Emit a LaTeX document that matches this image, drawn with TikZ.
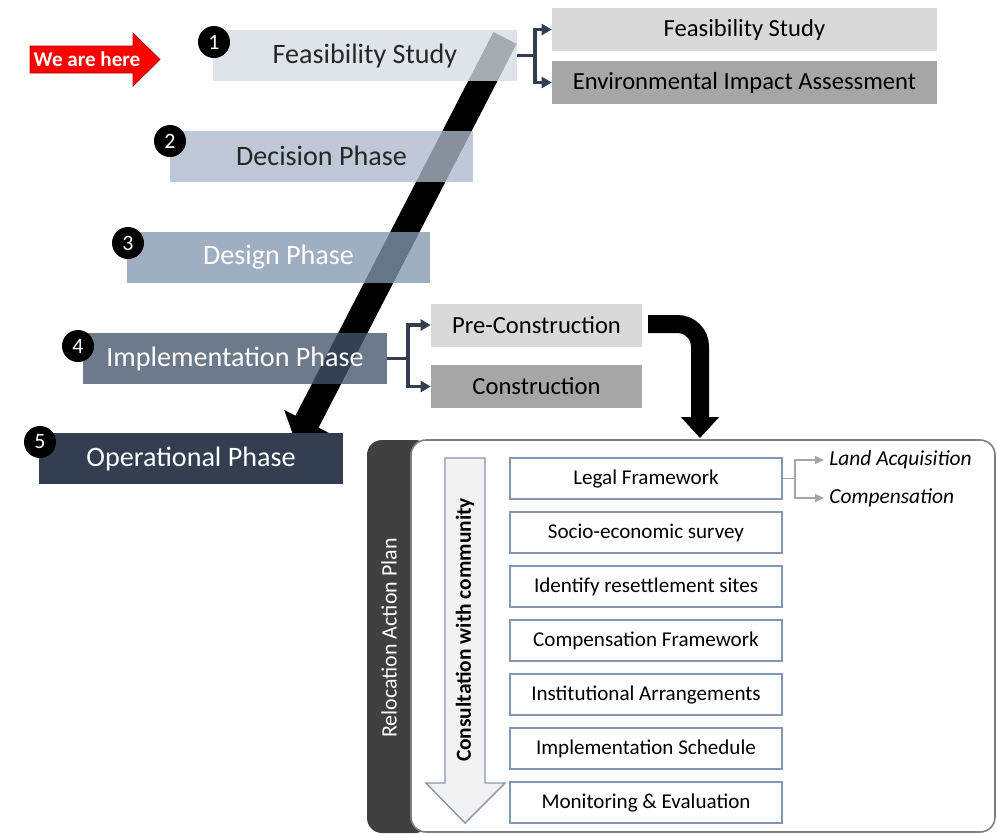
\documentclass[tikz,border=0pt]{standalone}
\usepackage{fontspec}
\setmainfont{Carlito}
\usetikzlibrary{arrows.meta,shapes}
\definecolor{phaseA}{HTML}{D6DCE5}
\definecolor{phaseB}{HTML}{ADB9CA}
\definecolor{phaseC}{HTML}{8497B0}
\definecolor{phaseD}{HTML}{44546A}
\definecolor{phaseE}{HTML}{333F50}
\definecolor{darkink}{HTML}{262626}
\definecolor{lightgrey}{HTML}{D9D9D9}
\definecolor{midgrey}{HTML}{A6A6A6}
\definecolor{boxline}{HTML}{8497B0}
\definecolor{panelline}{HTML}{7F7F7F}
\definecolor{barfill}{HTML}{404040}
\definecolor{paleflow}{HTML}{F2F2F2}
\tikzstyle{phase}=[rectangle,minimum width=6.08cm,minimum height=1.02cm,inner sep=0pt,fill opacity=0.78,text opacity=1,font=\fontsize{16}{18}\selectfont]
\tikzstyle{numdot}=[circle,fill=black,minimum size=0.64cm,inner sep=0pt,text=white,font=\fontsize{12.5}{14}\selectfont]
\tikzstyle{subbox}=[rectangle,minimum width=7.7cm,minimum height=0.86cm,inner sep=0pt,font=\fontsize{14}{16}\selectfont]
\tikzstyle{buildbox}=[rectangle,minimum width=4.22cm,minimum height=0.86cm,inner sep=0pt,font=\fontsize{14}{16}\selectfont]
\tikzstyle{rapbox}=[rectangle,draw=boxline,fill=white,line width=0.8pt,minimum width=5.44cm,minimum height=0.82cm,inner sep=0pt,font=\fontsize{12}{14}\selectfont]
\tikzstyle{bracket}=[draw=phaseE,line width=1.8pt]
\tikzstyle{bracketarrow}=[bracket,-{Triangle[length=0.2cm,width=0.22cm]}]
\tikzstyle{twig}=[draw=midgrey,line width=0.8pt]
\tikzstyle{twigarrow}=[twig,-{Triangle[length=0.18cm,width=0.16cm]},shorten >=0.1cm]

\begin{document}
\begin{tikzpicture}[x=0.02cm,y=-0.02cm]
    \useasboundingbox (0,0) rectangle (997,833);
    % The red pointer at the first phase
    \fill[red,draw=red!70!black,line width=0.4pt] (30,46) -- (133,46) -- (133,33) -- (160,59.5) -- (133,86) -- (133,73) -- (30,73) -- cycle;
    \node[text=white,font=\bfseries\fontsize{12}{14}\selectfont] (here) at (87,59.5) {We are here};

    % Big arrow running down through the phases
    \coordinate (diagtop) at (505,38);
    \coordinate (diagtip) at (296,443);
    \draw[line width=0.52cm,-{Triangle[length=0.48cm,width=1.0cm]}] (diagtop) -- (diagtip);

    % First we draw the phases
    \foreach \pos/\name/\shade/\ink/\txt in {{(365,55.5)/ph1/phaseA/darkink/Feasibility Study}, {(321.5,156)/ph2/phaseB/darkink/Decision Phase}, {(278.5,257.5)/ph3/phaseC/white/Design Phase}, {(235,358.5)/ph4/phaseD/white/Implementation Phase}}
        \node[phase,fill=\shade,text=\ink] (\name) at \pos {\txt};
    \node[phase,fill=phaseE,fill opacity=1,text=white] (ph5) at (191,458.5) {Operational Phase};

    \foreach \pos/\n in {{(214,42)/1}, {(170,141)/2}, {(128,243)/3}, {(78,346)/4}, {(40,442)/5}}
        \node[numdot] (n\n) at \pos {\n};

    % Sub steps of phase 1 and phase 4
    \node[subbox,fill=lightgrey] (fs) at (744.5,29.5) {Feasibility Study};
    \node[subbox,fill=midgrey] (eia) at (744.5,82.5) {Environmental Impact Assessment};
    \node[buildbox,fill=lightgrey] (pre) at (536.5,325) {Pre-Construction};
    \node[buildbox,fill=midgrey] (con) at (536.5,386.5) {Construction};

    \coordinate (b1) at (535,55.5);
    \coordinate (b4) at (408,358.5);
    \path[bracket] (ph1.east) -- (b1);
    \path[bracketarrow] (b1) |- (fs.west);
    \path[bracketarrow] (b1) |- (eia.west);
    \path[bracket] (ph4.east) -- (b4);
    \path[bracketarrow] (b4) |- (pre.west);
    \path[bracketarrow] (b4) |- (con.west);

    % Bent arrow into the action plan
    \coordinate (bendstart) at (648,324);
    \coordinate (bendcorner) at (700,324);
    \coordinate (bendtip) at (700,438);
    \draw[line width=0.36cm,rounded corners=0.45cm,-{Triangle[length=0.42cm,width=0.74cm]}] (bendstart) -- (bendcorner) -- (bendtip);

    % Relocation Action Plan panel
    \fill[barfill,rounded corners=0.3cm] (367,440) rectangle (430,833);
    \draw[panelline,fill=white,line width=0.9pt,rounded corners=0.3cm] (411,440) rectangle (995,832);
    \node[rotate=90,text=white,font=\fontsize{12.5}{14}\selectfont] (rap) at (389,638) {Relocation Action Plan};

    \draw[draw=boxline,fill=paleflow,line width=0.8pt] (445,458) -- (485,458) -- (485,783) -- (505,783) -- (465,823) -- (426,783) -- (445,783) -- cycle;
    \node[rotate=90,font=\bfseries\fontsize{12.2}{14}\selectfont] (consult) at (465,630) {Consultation with community};

    \foreach \i/\txt in {0/Legal Framework, 1/Socio-economic survey, 2/Identify resettlement sites, 3/Compensation Framework, 4/Institutional Arrangements, 5/Implementation Schedule, 6/Monitoring \& Evaluation}
        \node[rapbox] (r\i) at (646,{478.5+54*\i}) {\txt};

    \node[anchor=west,inner sep=0pt,font=\itshape\fontsize{12.2}{14}\selectfont] (land) at (829,460) {Land Acquisition};
    \node[anchor=west,inner sep=0pt,font=\itshape\fontsize{12.2}{14}\selectfont] (comp) at (829,498) {Compensation};
    \coordinate (lf) at (795,478.5);
    \path[twig] (r0.east) -- (lf);
    \path[twigarrow] (lf) |- (land.west);
    \path[twigarrow] (lf) |- (comp.west);
\end{tikzpicture}
\end{document}
